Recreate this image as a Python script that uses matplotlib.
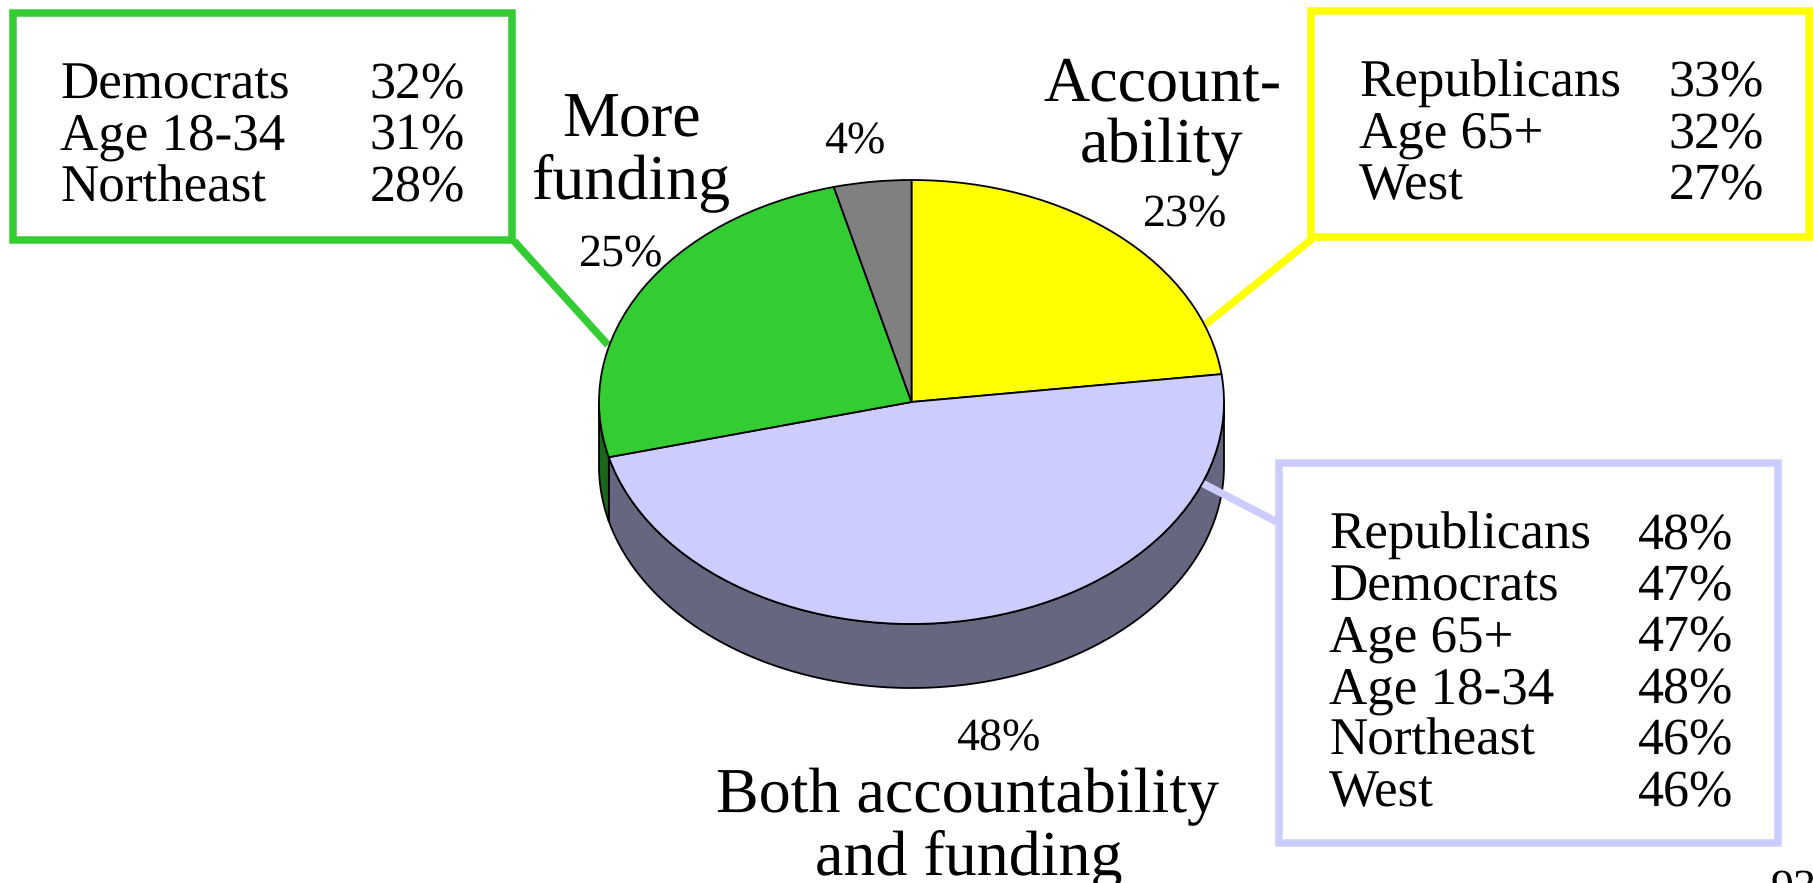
import numpy as np
import matplotlib
matplotlib.use("Agg")
import matplotlib.pyplot as plt
from matplotlib.patches import Rectangle

W, H = 1813, 883

# pie data, clockwise from 12 o'clock
SHARES = [23, 48, 25, 4]
TOP_COLORS = ["#ffff00", "#ccccff", "#33cc33", "#808080"]
SIDE_COLORS = ["#808000", "#666680", "#1a661a", "#404040"]

CX, CY, RX, RY = 911.5, 402, 312.5, 222
DEPTH = 64

LEFT_LABELS = ["Democrats", "Age 18-34", "Northeast"]
LEFT_PCTS = ["32%", "31%", "28%"]
RIGHT_LABELS = ["Republicans", "Age 65+", "West"]
RIGHT_PCTS = ["33%", "32%", "27%"]
BOTTOM_LABELS = ["Republicans", "Democrats", "Age 65+", "Age 18-34", "Northeast", "West"]
BOTTOM_PCTS = ["48%", "47%", "47%", "48%", "46%", "46%"]

BIG = 46.3
MID = 38.5
PCT = 37.4
SMALL = 33
BOX_LW = 5.4
EDGE_LW = 1.3

plt.rcParams["font.family"] = ["Liberation Serif", "DejaVu Serif"]
plt.rcParams["text.hinting"] = "no_hinting"
plt.rcParams["text.hinting_factor"] = 1

fig = plt.figure(figsize=(W / 100, H / 100), dpi=100, facecolor="white")
ax = fig.add_axes([0, 0, 1, 1])
ax.set_xlim(0, W)
ax.set_ylim(H, 0)
ax.axis("off")


def callout(x0, y0, x1, y1, color, leader):
    ax.add_patch(Rectangle((x0, y0), x1 - x0, y1 - y0, fill=False, edgecolor=color,
                           linewidth=BOX_LW, joinstyle="miter", clip_on=False))
    ax.plot(leader[0], leader[1], color=color, linewidth=BOX_LW, solid_capstyle="butt")


def table(labels, pcts, x_label, x_pct, y_first, step):
    for i, (lab, pct) in enumerate(zip(labels, pcts)):
        y = y_first + i * step
        ax.text(x_label, y, lab, fontsize=MID, va="baseline", ha="left")
        ax.text(x_pct, y, pct, fontsize=PCT, va="baseline", ha="left")


callout(12.5, 13, 512, 240, TOP_COLORS[2], ([514, 608], [241, 345]))
callout(1311, 10.5, 1809, 237, TOP_COLORS[0], ([1312, 1205], [239, 325]))
callout(1279, 463, 1778, 843, TOP_COLORS[1], ([1277, 1200], [522, 482]))

table(LEFT_LABELS, LEFT_PCTS, 60, 370, 98, 51.5)
table(RIGHT_LABELS, RIGHT_PCTS, 1359, 1669, 96.5, 51.5)
table(BOTTOM_LABELS, BOTTOM_PCTS, 1329, 1638, 549, 51.4)

# side of the disc, lower half only
edges = 90 - np.cumsum([0] + SHARES) * 3.6
for start, stop, color in zip(edges[:-1], edges[1:], SIDE_COLORS):
    t0, t1 = min(start, 0), max(stop, -180)
    if t0 <= t1:
        continue
    t = np.radians(np.linspace(t0, t1, 120))
    xs = CX + RX * np.cos(t)
    ys = CY - RY * np.sin(t)
    ax.fill(np.r_[xs, xs[::-1]], np.r_[ys, ys[::-1] + DEPTH], facecolor=color,
            edgecolor="black", linewidth=EDGE_LW, joinstyle="round")

# top of the disc
pie_ax = fig.add_axes([(CX - RX) / W, 1 - (CY + RY) / H, 2 * RX / W, 2 * RY / H])
pie_ax.pie(SHARES, colors=TOP_COLORS, startangle=90, counterclock=False, radius=1,
           wedgeprops={"edgecolor": "black", "linewidth": EDGE_LW})
pie_ax.set_aspect("auto")
pie_ax.set_xlim(-1, 1)
pie_ax.set_ylim(-1, 1)
for patch in pie_ax.patches:
    patch.set_clip_on(False)

# slice labels
ax.text(631, 136, "More", fontsize=BIG, ha="center", va="baseline")
ax.text(631, 198, "funding", fontsize=BIG, ha="center", va="baseline")
ax.text(1162, 100, "Account-", fontsize=BIG, ha="center", va="baseline")
ax.text(1162, 162, "ability", fontsize=BIG, ha="center", va="baseline")
ax.text(968, 812, "Both accountability", fontsize=BIG, ha="center", va="baseline")
ax.text(969, 874, "and funding", fontsize=BIG, ha="center", va="baseline")

ax.text(621, 266, "25%", fontsize=SMALL, ha="center", va="baseline")
ax.text(1185, 226, "23%", fontsize=SMALL, ha="center", va="baseline")
ax.text(855, 153, "4%", fontsize=SMALL, ha="center", va="baseline")
ax.text(998, 750, "48%", fontsize=SMALL, ha="center", va="baseline")

# page number, cut off by the page edge
ax.text(1771, 901, "93", fontsize=SMALL, ha="left", va="baseline")

fig.savefig("out.png", dpi=100, facecolor="white")
